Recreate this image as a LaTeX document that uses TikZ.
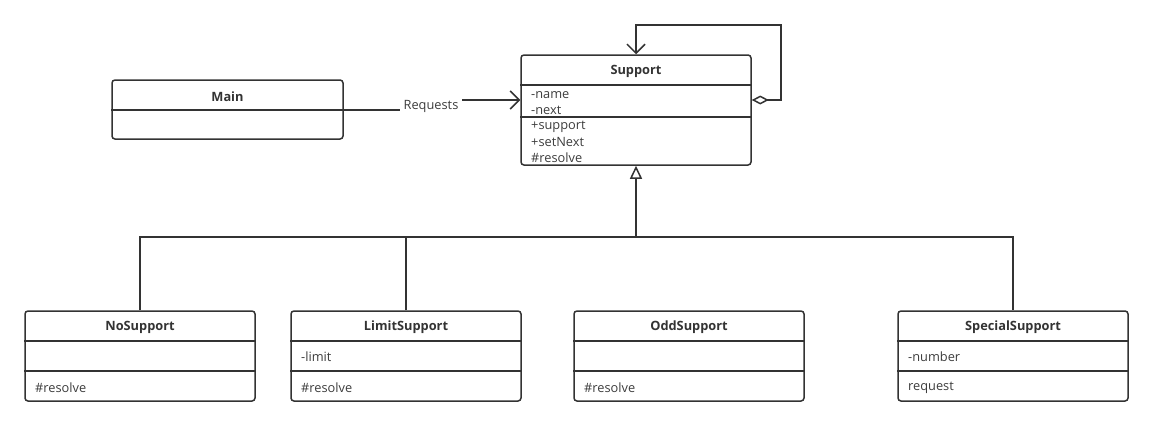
\documentclass[tikz,border=0pt]{standalone}
\usepackage{fontspec}
\setmainfont{Open Sans}
\usetikzlibrary{arrows.meta}
\definecolor{linecol}{HTML}{333333}
\definecolor{textcol}{HTML}{3C3C3C}
\tikzset{
  umlbox/.style={draw=linecol, line width=1.5pt, rounded corners=3pt, minimum width=230pt, inner sep=0pt},
  classtitle/.style={font=\fontsize{12.8}{15}\selectfont\bfseries, text=linecol},
  member/.style={anchor=west, inner sep=0pt, font=\fontsize{12.8}{15}\selectfont, text=textcol},
  conn/.style={draw=linecol, line width=1.5pt},
  openarrow/.style={-{Straight Barb[length=9pt,width=18pt]}},
}
\begin{document}
\begin{tikzpicture}[x=1pt,y=-1pt]
\useasboundingbox (0,0) rectangle (1153,426);
% client class
\node[umlbox, minimum width=231pt, minimum height=59pt] (main) at (227.5,109.5) {};
\node[classtitle] (main-title) at (227.5,97) {Main};
\draw[conn] (main.west |- 0,110) -- (main.east |- 0,110);
% abstract handler
\node[umlbox, minimum height=110pt] (support) at (636,110) {};
\node[classtitle] (support-title) at (636,71) {Support};
\draw[conn] (support.west |- 0,85) -- (support.east |- 0,85);
\draw[conn] (support.west |- 0,117) -- (support.east |- 0,117);
\node[member] (support-name) at (531,95) {-name};
\node[member] (support-next) at (531,110) {-next};
\node[member] (support-support) at (531,127) {+support};
\node[member] (support-setnext) at (531,142) {+setNext};
\node[member] (support-resolve) at (531,158) {\#resolve};
% concrete handlers
\foreach \cx/\nm/\ttl/\attr/\op in {140/nosup/NoSupport//\#resolve,
    406/limitsup/LimitSupport/-limit/\#resolve,
    689/oddsup/OddSupport//\#resolve,
    1013/specialsup/SpecialSupport/-number/request}{
  \node[umlbox, minimum height=90pt] (\nm) at (\cx,356) {};
  \node[classtitle] (\nm-title) at (\cx,327) {\ttl};
  \draw[conn] (\nm.west |- 0,341) -- (\nm.east |- 0,341);
  \draw[conn] (\nm.west |- 0,371) -- (\nm.east |- 0,371);
  \node[member] (\nm-attr) at (\cx-105,357) {\attr};
  \node[member] (\nm-op) at (\cx-105,388) {\op};
}
% requests
\draw[conn, openarrow] (main.east |- 0,110) -- (431,110) -- (431,100) -- (support.west |- 0,100);
\node[member, anchor=center, fill=white, inner sep=4pt] (req) at (431,106) {Requests};
% successor link
\draw[conn, {Diamond[open,length=17pt,width=9pt]}-{Straight Barb[length=9pt,width=18pt]}]
  (support.east |- 0,100) -- (781,100) |- (support.north |- 0,25) -- (support.north);
% generalisation
\draw[conn] (nosup.north) |- (specialsup.north |- 0,237) -- (specialsup.north);
\draw[conn] (limitsup.north) -- (limitsup.north |- 0,237);
\draw[conn, -{Triangle[open,length=13pt,width=12pt]}] (support.south |- 0,237) -- (support.south);
\end{tikzpicture}
\end{document}
